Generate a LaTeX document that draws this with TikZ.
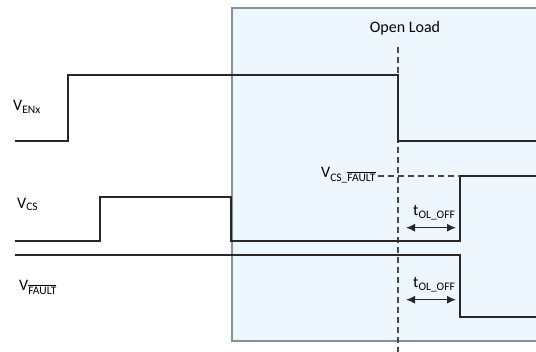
\documentclass[tikz,border=0pt]{standalone}
\usepackage{fontspec}
\setmainfont{Carlito}
\usepackage{tikz}
\usetikzlibrary{arrows.meta,positioning}

\definecolor{zonefill}{RGB}{239,247,254}
\definecolor{zoneline}{RGB}{132,146,160}
\definecolor{wave}{RGB}{40,40,40}

\tikzset{
  signal/.style={draw=wave, line width=1.4pt},
  marker/.style={draw=wave!85, line width=1.3pt, dash pattern=on 6pt off 4pt},
  lbl/.style={inner sep=0pt, font=\fontsize{16}{19}\selectfont},
  timing/.style={draw=wave, line width=1.2pt, {Latex[length=9pt,width=8pt]}-{Latex[length=9pt,width=8pt]}}
}
\newcommand{\sbs}[1]{\textsubscript{\fontsize{11.5}{13}\selectfont #1}}

\begin{document}
\begin{tikzpicture}[x=1pt, y=-1pt]
    \useasboundingbox (0,0) rectangle (536,352);
    \clip (0,0) rectangle (536,352);
    % open load window
    \draw[fill=zonefill, draw=zoneline, line width=1.2pt] (232,8) rectangle (545,341);
    \node[lbl] (openload) at (405,28) {Open Load};
    \draw[marker] (398,47) -- (398,352);

    % enable
    \node[lbl, anchor=base west] (venx) at (13,110.7) {V\sbs{ENx}};
    \draw[signal] (15,141) -- (68,141) -- (68,75) -- (398,75) -- (398,141) -- (540,141);

    % current sense
    \node[lbl, anchor=base west] (vcs) at (17,208.3) {V\sbs{CS}};
    \draw[signal] (15,241) -- (100,241) -- (100,197) -- (231,197) -- (231,241) -- (460,241) -- (460,176) -- (540,176);
    \node[lbl, anchor=base west] (vcsfault) at (321,178) {V\sbs{CS\_$\overline{\mbox{FAULT}}$}};
    \coordinate (thr) at (378,176);
    \draw[marker] (thr) -- (460,176);

    % fault
    \node[lbl, anchor=base west] (vfault) at (19,290.7) {V\sbs{$\overline{\mbox{FAULT}}$}};
    \draw[signal] (15,255) -- (460,255) -- (460,317) -- (540,317);

    % delay times
    \node[lbl, anchor=base west] (toff1) at (413,215.7) {t\sbs{OL\_OFF}};
    \node[lbl, anchor=base west] (toff2) at (413,287.7) {t\sbs{OL\_OFF}};
    \coordinate (a1) at (406,227.7);
    \coordinate (b1) at (456,227.7);
    \coordinate (a2) at (406,299.7);
    \coordinate (b2) at (456,299.7);
    \draw[timing] (a1) -- (b1);
    \draw[timing] (a2) -- (b2);
\end{tikzpicture}
\end{document}
